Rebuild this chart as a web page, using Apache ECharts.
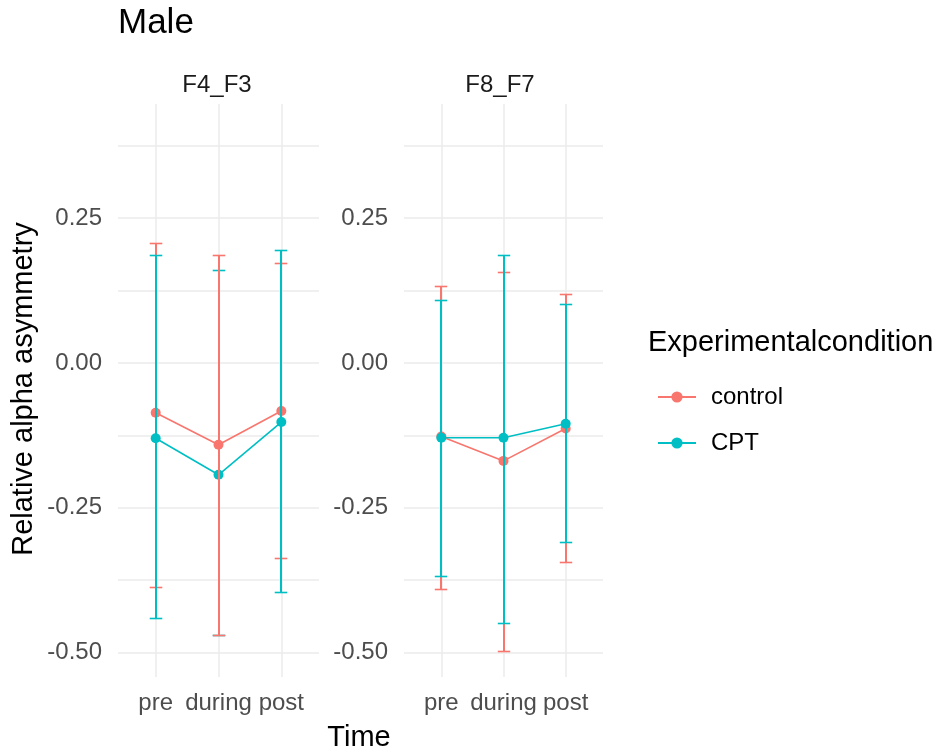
<!DOCTYPE html>
<html><head><meta charset="utf-8">
<script src="https://cdn.jsdelivr.net/npm/echarts@6/dist/echarts.min.js"></script>
<style>html,body{margin:0;padding:0;background:#fff}#c{width:942px;height:753px}</style>
</head><body><div id="c"></div>
<script>
// ---- data ----
const times = ['pre', 'during', 'post'];
const panels = ['F4_F3', 'F8_F7'];
const groups = ['control', 'CPT'];
const yTickLabels = [-0.5, -0.25, 0, 0.25];
const yGridValues = [-0.5, -0.375, -0.25, -0.125, 0, 0.125, 0.25, 0.375];

const controlMeanF4F3 = [-0.086, -0.141, -0.083];
const controlLowF4F3  = [-0.386, -0.470, -0.337];
const controlHighF4F3 = [0.207, 0.186, 0.172];
const cptMeanF4F3 = [-0.130, -0.193, -0.102];
const cptLowF4F3  = [-0.441, -0.470, -0.396];
const cptHighF4F3 = [0.186, 0.161, 0.195];

const controlMeanF8F7 = [-0.127, -0.169, -0.113];
const controlLowF8F7  = [-0.390, -0.497, -0.343];
const controlHighF8F7 = [0.133, 0.157, 0.119];
const cptMeanF8F7 = [-0.129, -0.129, -0.105];
const cptLowF8F7  = [-0.368, -0.448, -0.309];
const cptHighF8F7 = [0.108, 0.186, 0.101];

// which group's error bar is drawn on top at each time point
const topGroupF4F3 = ['CPT', 'control', 'CPT'];
const topGroupF8F7 = ['CPT', 'CPT', 'CPT'];

// ---- assembly ----
const dataByPanel = {
  F4_F3: {
    control: {mean: controlMeanF4F3, low: controlLowF4F3, high: controlHighF4F3},
    CPT: {mean: cptMeanF4F3, low: cptLowF4F3, high: cptHighF4F3},
    top: topGroupF4F3
  },
  F8_F7: {
    control: {mean: controlMeanF8F7, low: controlLowF8F7, high: controlHighF8F7},
    CPT: {mean: cptMeanF8F7, low: cptLowF8F7, high: cptHighF8F7},
    top: topGroupF8F7
  }
};

const FONT = "'Liberation Sans', Arial, sans-serif";
const colors = {control: '#F8766D', CPT: '#00BFC4'};
const gridColor = '#EBEBEB';

const grids = [
  {left: 118, top: 104, width: 201, height: 573},
  {left: 404, top: 104, width: 199, height: 573}
];

const xAxes = panels.map((p, i) => ({
  type: 'value', gridIndex: i, min: 0.4, max: 3.6,
  axisLine: {show: false},
  axisTick: {show: false, customValues: times.map((t, k) => k + 1)},
  axisLabel: {
    customValues: times.map((t, k) => k + 1),
    formatter: v => times[Math.round(v) - 1] || '',
    fontSize: 24, fontFamily: FONT, color: '#4D4D4D', margin: 14
  },
  splitLine: {show: true, lineStyle: {color: gridColor, width: 1.5}}
}));

const yAxes = panels.map((p, i) => ({
  type: 'value', gridIndex: i, min: -0.542, max: 0.447,
  axisLine: {show: false},
  axisTick: {show: false, customValues: yGridValues},
  axisLabel: {
    customValues: yTickLabels,
    formatter: v => v.toFixed(2),
    fontSize: 24, fontFamily: FONT, color: '#4D4D4D', margin: 16,
    padding: [7, 0, 0, 0]
  },
  splitLine: {show: true, lineStyle: {color: gridColor, width: 1.5}}
}));

const series = [];
panels.forEach((p, pi) => {
  const d = dataByPanel[p];
  groups.forEach(g => {
    series.push({
      type: 'line', name: g, xAxisIndex: pi, yAxisIndex: pi,
      data: times.map((t, k) => [k + 1, d[g].mean[k]]),
      symbol: 'circle', symbolSize: 10,
      lineStyle: {width: 1.6, color: colors[g]},
      itemStyle: {color: colors[g]},
      z: 2, silent: true
    });
  });
  const ebData = [];
  times.forEach((t, k) => {
    groups.forEach((g, gi) => {
      ebData.push([k + 1, d[g].low[k], d[g].high[k], gi, d.top[k] === g ? 1 : 0]);
    });
  });
  series.push({
    type: 'custom', xAxisIndex: pi, yAxisIndex: pi, z: 3, silent: true,
    data: ebData,
    encode: {x: 0, y: [1, 2]},
    renderItem: (params, api) => {
      const x = api.value(0), lo = api.value(1), hi = api.value(2);
      const gi = api.value(3), onTop = api.value(4);
      const pLo = api.coord([x, lo]);
      const pHi = api.coord([x, hi]);
      const cx = Math.round(pLo[0]);
      const yLo = Math.round(pLo[1]) + 0.5, yHi = Math.round(pHi[1]) + 0.5;
      const hw = api.size([0.1, 0])[0];
      const color = colors[groups[gi]];
      const st = {stroke: color, lineWidth: 2};
      const st2 = {stroke: color, lineWidth: 1.6};
      const z2 = onTop ? 20 : 10;
      return {
        type: 'group',
        children: [
          {type: 'line', z2, shape: {x1: cx, y1: yLo, x2: cx, y2: yHi}, style: st},
          {type: 'line', z2, shape: {x1: cx - hw, y1: yHi, x2: cx + hw, y2: yHi}, style: st2},
          {type: 'line', z2, shape: {x1: cx - hw, y1: yLo, x2: cx + hw, y2: yLo}, style: st2}
        ]
      };
    }
  });
});

const txt = (text, x, y, size, opts) => Object.assign({
  type: 'text', x, y, silent: true,
  style: Object.assign({text, fontSize: size, fontFamily: FONT, fill: '#000',
    align: 'left', verticalAlign: 'middle'}, (opts && opts.style) || {})
}, (opts && opts.el) || {});

const graphic = [
  txt('Male', 118, 23, 35),
  txt(panels[0], 217, 85, 24, {style: {align: 'center', fill: '#1A1A1A'}}),
  txt(panels[1], 500, 85, 24, {style: {align: 'center', fill: '#1A1A1A'}}),
  txt('Time', 359, 738, 29, {style: {align: 'center'}}),
  txt('Relative alpha asymmetry', 24, 389, 29, {style: {align: 'center'}, el: {rotation: Math.PI / 2}}),
  txt('Experimentalcondition', 648, 343, 29)
];

const chart = echarts.init(document.getElementById('c'), null, {renderer: 'canvas'});
chart.setOption({
  animation: false,
  backgroundColor: '#fff',
  grid: grids,
  xAxis: xAxes,
  yAxis: yAxes,
  legend: {
    data: groups, orient: 'vertical', left: 652, top: 380,
    itemWidth: 38, itemHeight: 14, itemGap: 22,
    textStyle: {fontSize: 24, fontFamily: FONT, color: '#000', padding: [0, 0, 0, 10]},
    selectedMode: false
  },
  graphic: graphic,
  series: series
});
</script>
</body></html>
